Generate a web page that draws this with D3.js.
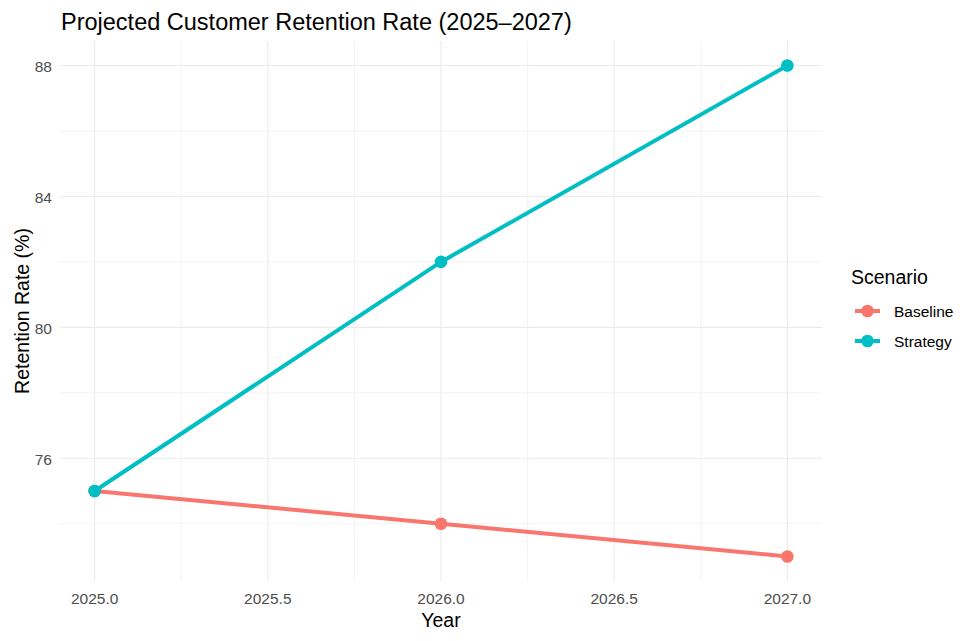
<!DOCTYPE html>
<html lang="en">
<head>
    <meta charset="UTF-8">
    <title>Projected Customer Retention Rate (2025–2027)</title>
    <style>
        body, html {
            margin: 0;
            padding: 0;
            background: #fff;
            font-family: 'Liberation Sans', Arial, sans-serif;
        }
        .grid-major { stroke: #ebebeb; stroke-width: 1.1; }
        .grid-minor { stroke: #ebebeb; stroke-width: 0.6; }
        .tick-label { fill: #4d4d4d; font-size: 15.5px; }
    </style>
</head>
<body>
<div id="chart"></div>
<script src="https://d3js.org/d3.v7.min.js"></script>
<script>
    // data
    const years = [2025, 2026, 2027];
    const seriesNames = ["Baseline", "Strategy"];
    const baselineValues = [75, 74, 73];
    const strategyValues = [75, 82, 88];
    const xTicks = [2025.0, 2025.5, 2026.0, 2026.5, 2027.0];
    const yTicks = [76, 80, 84, 88];
    const colors = ["#F8766D", "#00BFC4"];

    const width = 975, height = 641;
    const panel = { left: 60, right: 822, top: 41, bottom: 581 };

    const svg = d3.select("#chart").append("svg")
        .attr("width", width)
        .attr("height", height);

    // ggplot style 5% expansion
    const x = d3.scaleLinear().domain([2024.9, 2027.1]).range([panel.left, panel.right]);
    const y = d3.scaleLinear().domain([72.25, 88.75]).range([panel.bottom, panel.top]);

    const grid = svg.append("g");
    // minor gridlines halfway between the majors
    const xMinor = d3.range(xTicks.length - 1).map(i => (xTicks[i] + xTicks[i + 1]) / 2);
    const yMinor = [74].concat(d3.range(yTicks.length - 1).map(i => (yTicks[i] + yTicks[i + 1]) / 2));

    grid.selectAll(".vx-minor").data(xMinor).enter().append("line")
        .attr("class", "grid-minor")
        .attr("x1", d => x(d)).attr("x2", d => x(d))
        .attr("y1", panel.top).attr("y2", panel.bottom);
    grid.selectAll(".hy-minor").data(yMinor).enter().append("line")
        .attr("class", "grid-minor")
        .attr("y1", d => y(d)).attr("y2", d => y(d))
        .attr("x1", panel.left).attr("x2", panel.right);
    grid.selectAll(".vx").data(xTicks).enter().append("line")
        .attr("class", "grid-major")
        .attr("x1", d => x(d)).attr("x2", d => x(d))
        .attr("y1", panel.top).attr("y2", panel.bottom);
    grid.selectAll(".hy").data(yTicks).enter().append("line")
        .attr("class", "grid-major")
        .attr("y1", d => y(d)).attr("y2", d => y(d))
        .attr("x1", panel.left).attr("x2", panel.right);

    // tick labels
    svg.append("g").selectAll("text").data(xTicks).enter().append("text")
        .attr("class", "tick-label")
        .attr("x", d => x(d)).attr("y", panel.bottom + 23)
        .attr("text-anchor", "middle")
        .text(d => d3.format(".1f")(d));
    svg.append("g").selectAll("text").data(yTicks).enter().append("text")
        .attr("class", "tick-label")
        .attr("x", panel.left - 8).attr("y", d => y(d) + 6.5)
        .attr("text-anchor", "end")
        .text(d => d);

    // lines and points
    const series = seriesNames.map((name, i) => ({
        name: name,
        color: colors[i],
        values: years.map((yr, j) => ({ year: yr, value: (i === 0 ? baselineValues : strategyValues)[j] }))
    }));

    const line = d3.line().x(d => x(d.year)).y(d => y(d.value));

    const seriesG = svg.append("g").selectAll("g").data(series).enter().append("g");
    seriesG.append("path")
        .attr("d", d => line(d.values))
        .attr("fill", "none")
        .attr("stroke", d => d.color)
        .attr("stroke-width", 4);
    seriesG.selectAll("circle").data(d => d.values.map(v => ({ ...v, color: d.color }))).enter().append("circle")
        .attr("cx", d => x(d.year))
        .attr("cy", d => y(d.value))
        .attr("r", 6.3)
        .attr("fill", d => d.color);

    // titles
    svg.append("text")
        .attr("x", 61).attr("y", 29.5)
        .attr("font-size", "23.5px").attr("fill", "#000")
        .text("Projected Customer Retention Rate (2025–2027)");
    svg.append("text")
        .attr("x", (panel.left + panel.right) / 2).attr("y", 627)
        .attr("text-anchor", "middle")
        .attr("font-size", "19.5px").attr("fill", "#000")
        .text("Year");
    svg.append("text")
        .attr("transform", `translate(29,${(panel.top + panel.bottom) / 2}) rotate(-90)`)
        .attr("text-anchor", "middle")
        .attr("font-size", "19.5px").attr("fill", "#000")
        .text("Retention Rate (%)");

    // legend
    const legend = svg.append("g").attr("transform", "translate(851,0)");
    legend.append("text")
        .attr("x", 0).attr("y", 283.5)
        .attr("font-size", "19.5px").attr("fill", "#000")
        .text("Scenario");
    const items = legend.selectAll(".item").data(series).enter().append("g")
        .attr("transform", (d, i) => `translate(0,${311 + i * 30})`);
    items.append("line")
        .attr("x1", 4).attr("x2", 29).attr("y1", 0).attr("y2", 0)
        .attr("stroke", d => d.color).attr("stroke-width", 4);
    items.append("circle")
        .attr("cx", 16.5).attr("cy", 0).attr("r", 6.3)
        .attr("fill", d => d.color);
    items.append("text")
        .attr("x", 43).attr("y", 6)
        .attr("font-size", "15.5px").attr("fill", "#000")
        .text(d => d.name);
</script>
</body>
</html>
